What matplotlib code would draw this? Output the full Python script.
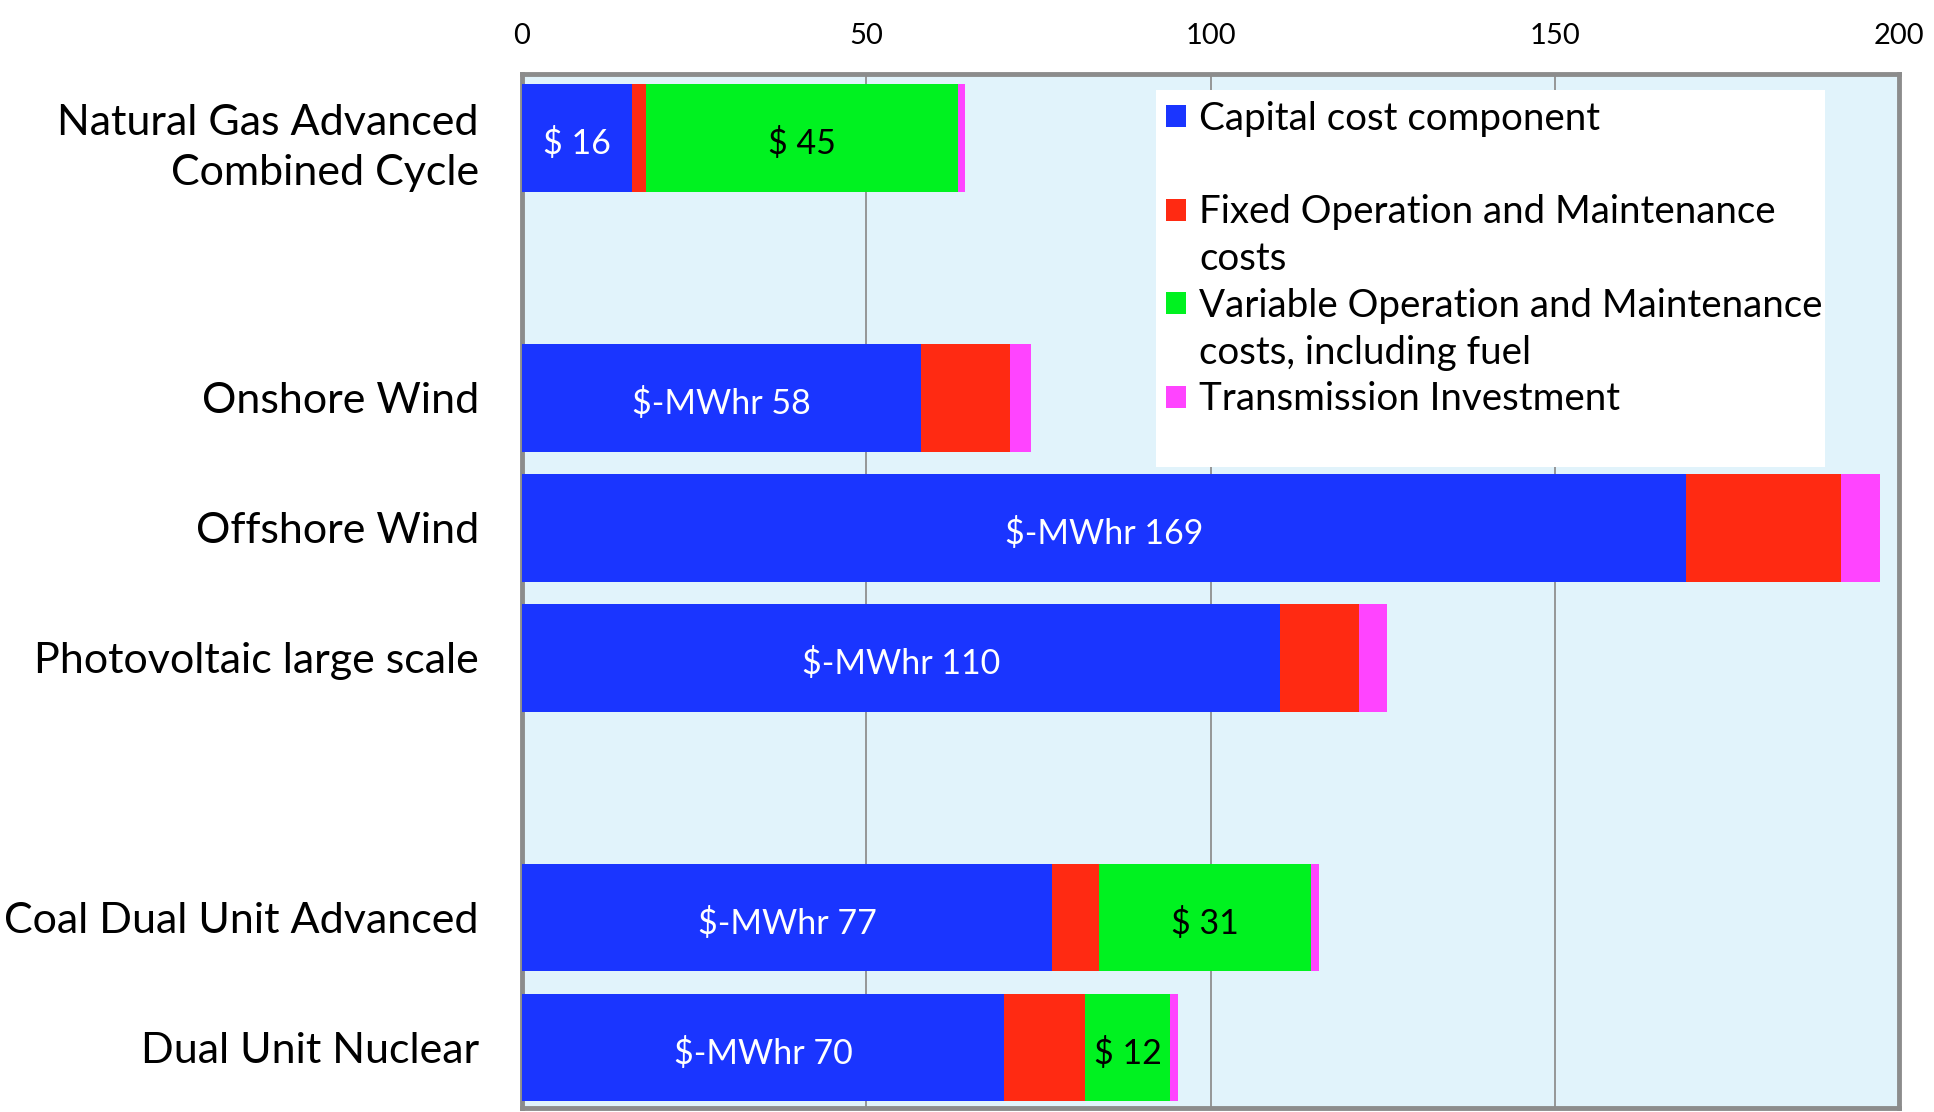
import matplotlib
matplotlib.use("Agg")
import matplotlib.pyplot as plt
from matplotlib.patches import Patch
import numpy as np

plt.rcParams['font.family'] = ['Lato', 'DejaVu Sans']

# ---------------- data ----------------
categories = ["Natural Gas Advanced\nCombined Cycle", "", "Onshore Wind", "Offshore Wind",
              "Photovoltaic large scale", "", "Coal Dual Unit Advanced", "Dual Unit Nuclear"]
capital = [16, 0, 58, 169, 110, 0, 77, 70]
fixed_om = [2.0, 0, 12.9, 22.5, 11.5, 0, 6.8, 11.8]
variable_om = [45.3, 0, 0, 0, 0, 0, 30.8, 12.3]
transmission = [1.0, 0, 3.0, 5.7, 4.1, 0, 1.1, 1.1]
capital_labels = ["$ 16", "", "$-MWhr 58", "$-MWhr 169", "$-MWhr 110", "", "$-MWhr 77", "$-MWhr 70"]
variable_labels = ["$ 45", "", "", "", "", "", "$ 31", "$ 12"]
series_names = ["Capital cost component",
                "Fixed Operation and Maintenance\ncosts",
                "Variable Operation and Maintenance\ncosts, including fuel",
                "Transmission Investment"]
x_ticks = [0, 50, 100, 150, 200]

colors = ["#1a35ff", "#ff2a12", "#00f220", "#ff44ff"]

# ---------------- figure ----------------
fig = plt.figure(figsize=(19.34, 11.12), dpi=100)
ax = fig.add_axes([0.2699, 0.0036, 0.7122, 0.9299])
ax.set_facecolor("#e1f3fb")

y = np.arange(len(categories))
h = 0.83
series = [capital, fixed_om, variable_om, transmission]
left = np.zeros(len(categories))
bars = []
for vals, c in zip(series, colors):
    vals = np.array(vals, dtype=float)
    b = ax.barh(y, vals, left=left, height=h, color=c, edgecolor="none", zorder=3)
    bars.append(b)
    left = left + vals


def seg_label(rect, lab, color):
    ax.annotate(lab, (rect.get_x() + rect.get_width() / 2, rect.get_y() + rect.get_height() / 2),
                xytext=(0, -4), textcoords="offset points",
                ha="center", va="center", color=color, fontsize=24.5, zorder=4)


for rect, lab in zip(bars[0], capital_labels):
    if lab:
        seg_label(rect, lab, "white")
for rect, lab in zip(bars[2], variable_labels):
    if lab:
        seg_label(rect, lab, "black")

ax.set_xlim(0, 200)
ax.set_ylim(7.466, -0.494)
ax.set_yticks(y)
ax.set_yticklabels(categories, fontsize=31)
for t in ax.get_yticklabels():
    t.set_linespacing(1.4)
ax.set_xticks(x_ticks)
ax.set_xticklabels([str(t) for t in x_ticks], fontsize=21)
ax.xaxis.tick_top()
ax.tick_params(axis="x", length=0, pad=18)
ax.tick_params(axis="y", length=0, pad=31)
ax.xaxis.grid(True, color="#8f8f8f", linewidth=1.3, zorder=1)
ax.set_axisbelow(True)
for s in ax.spines.values():
    s.set_color("#8c8c8c")
    s.set_linewidth(3.5)

# legend: each entry takes two rows, handle beside the first row
handles, labels = [], []
for name, c in zip(series_names, colors):
    lines = name.split("\n")
    lines = lines + [" "] * (2 - len(lines))
    for i, ln in enumerate(lines):
        if i == 0:
            handles.append(Patch(facecolor=c, edgecolor="none"))
        else:
            handles.append(Patch(facecolor="none", edgecolor="none"))
        labels.append(ln)

leg = ax.legend(handles, labels, loc="upper left", bbox_to_anchor=(0.460, 0.624, 0.486, 0.3605),
                mode="expand", borderaxespad=0, fontsize=27.7, frameon=True, fancybox=False,
                facecolor="white", edgecolor="none", framealpha=1, labelspacing=0.28,
                handlelength=0.5, handleheight=0.5, handletextpad=0.35, borderpad=0.28)
leg.get_texts()[-1].set_fontsize(13)
leg.set_zorder(5)

fig.savefig("out.png", dpi=100)
